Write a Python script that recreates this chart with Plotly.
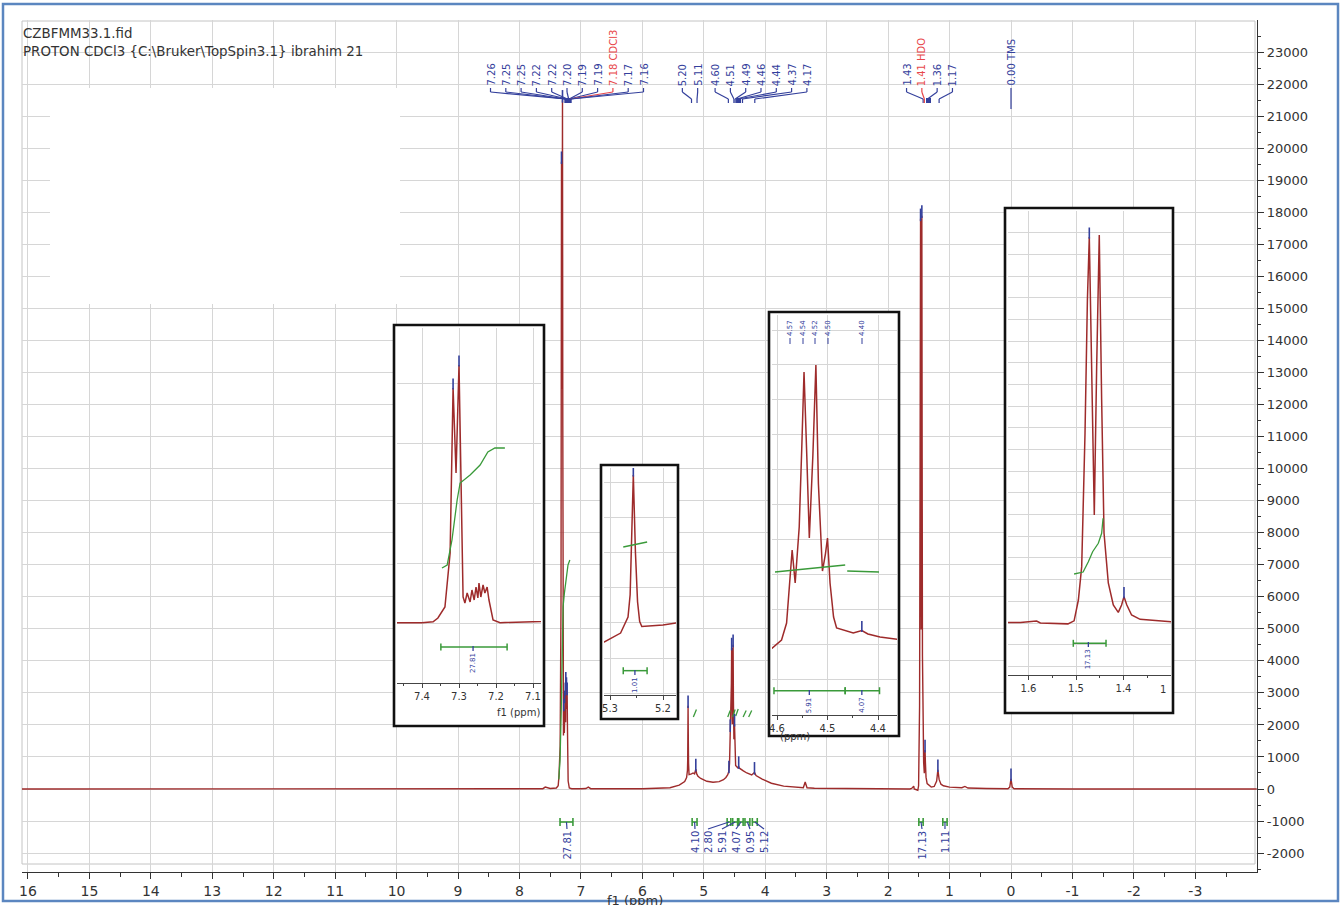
import numpy as np
import plotly.graph_objects as go

# ------------------------------------------------------------------
# page / plot-area geometry (pixels)
# ------------------------------------------------------------------
FIG_W, FIG_H = 1341, 905
PL, PR, PT, PB = 22, 1257, 20, 872

# main axis calibration: ppm -> px and intensity -> px
PPM0_PX, PX_PER_PPM = 1011.0, 61.44
BASE_PX, PX_PER_UNIT = 789.0, 0.03203

# ------------------------------------------------------------------
# 1H NMR spectrum: chemical shift (ppm) and intensity
# ------------------------------------------------------------------
shift_ppm = [
    16.10, 12.00, 9.00, 7.62, 7.58, 7.50, 7.40, 7.370, 7.357, 7.338, 7.324, 7.316, 7.308, 7.300,
    7.295, 7.289, 7.284, 7.278, 7.270, 7.265, 7.259, 7.254, 7.249, 7.246, 7.241, 7.235, 7.230,
    7.224, 7.219, 7.208, 7.189, 7.150, 7.00, 6.92, 6.88, 6.84, 6.00, 5.55, 5.40,
    5.311, 5.280, 5.266, 5.262, 5.259, 5.256, 5.252, 5.248, 5.244, 5.240, 5.200, 5.175, 5.150,
    5.130, 5.115, 5.095, 5.050, 4.950, 4.850, 4.750, 4.680,
    4.640, 4.610, 4.591, 4.581, 4.576, 4.570, 4.564, 4.556, 4.551, 4.5465, 4.541, 4.536, 4.529,
    4.523, 4.518, 4.510, 4.504, 4.500, 4.495, 4.488, 4.482, 4.449, 4.432, 4.420, 4.396, 4.356,
    4.300, 4.220, 4.175, 4.150, 4.050, 3.900, 3.700, 3.500, 3.380, 3.350, 3.320, 3.200, 2.800,
    2.000, 1.700,
    1.646, 1.617, 1.583, 1.575, 1.517, 1.504, 1.495, 1.488, 1.481, 1.476, 1.472, 1.467, 1.4615,
    1.4565, 1.451, 1.446, 1.441, 1.432, 1.4215, 1.411, 1.404, 1.399, 1.393, 1.383, 1.365, 1.298,
    1.250, 1.210, 1.190, 1.170, 1.140, 1.100, 1.000, 0.800, 0.750, 0.700, 0.400, 0.050, 0.020,
    0.000, -0.020, -0.050, -1.000, -4.000,
]
intensity = [
    0, 5, 0, 10, 60, 15, 30, 100, 417, 1333, 5833, 19583, 12500, 21500,
    11333, 2167, 1667, 2500, 1750, 2750, 1917, 3000, 2083, 3333, 2167, 3167, 2500,
    3000, 1917, 250, 30, 10, 10, 15, 60, 10, 10, 40, 120,
    231, 357, 584, 900, 1700, 2600, 1500, 800, 520, 450, 470, 500, 470,
    620, 470, 400, 330, 240, 210, 230, 290,
    360, 445, 564, 807, 1236, 1852, 1379, 2181, 3300, 4400, 3200, 2023, 3200,
    4500, 2800, 1550, 1800, 2023, 1379, 893, 736, 664, 700, 650, 607, 564,
    500, 440, 520, 420, 310, 180, 90, 50, 40, 220, 40, 25, 15,
    10, 10,
    0, 20, 90, 0, -40, 100, 1060, 2600, 8760, 14900, 17800, 11820, 4980,
    11820, 17900, 10290, 4150, 1845, 830, 490, 830, 1215, 830, 370, 170, 60,
    80, 250, 600, 300, 150, 100, 60, 40, 80, 30, 15, 10, 60,
    320, 60, 10, 0, 0,
]

# picked peaks (shown as short blue ticks on the peak tops)
picked_ppm = [7.316, 7.300, 7.278, 7.265, 7.254, 7.246, 7.235, 7.224, 5.256, 5.130, 4.591,
              4.570, 4.5465, 4.523, 4.500, 4.432, 4.175, 1.472, 1.451, 1.399, 1.190, 0.000]

# peak label groups shown along the top: (labels, group centre in px)
peak_label_groups = [
    (["7.26", "7.25", "7.25", "7.22", "7.22", "7.20", "7.19", "7.19", "7.18 CDCl3", "7.17", "7.16"], 567),
    (["5.20", "5.11"], 690),
    (["4.60", "4.51", "4.49", "4.46", "4.44", "4.37", "4.17"], 761),
    (["1.43", "1.41 HDO", "1.36", "1.17"], 929.5),
    (["0.00 TMS"], 1011),
]
solvent_labels = {"7.18 CDCl3", "1.41 HDO"}

# integrals on the main trace
integral_ranges = [(7.34, 7.13), (5.19, 5.11), (4.62, 4.56), (4.53, 4.45), (4.43, 4.36),
                   (4.33, 4.25), (4.21, 4.13), (1.50, 1.43), (1.11, 1.04)]
integral_values = ["27.81", "4.10", "2.80", "5.91", "4.07", "0.95", "5.12", "17.13", "1.11"]
integral_label_px = [567, 695, 708, 722, 736, 750, 764, 922, 945]

# integral curve of the aromatic region (main scale)
int_main_ppm = [7.36, 7.34, 7.32, 7.31, 7.30, 7.29, 7.27, 7.24, 7.21, 7.18]
int_main_val = [300, 900, 2500, 4200, 5300, 5700, 6100, 6600, 7000, 7150]
# short integral traces over the 5.2 - 4.1 ppm region
int_short = [((5.17, 5.12), (2250, 2480)), ((4.61, 4.57), (2250, 2450)),
             ((4.53, 4.49), (2250, 2480)), ((4.48, 4.44), (2280, 2500)),
             ((4.36, 4.31), (2250, 2450)), ((4.27, 4.22), (2250, 2450))]

# ------------------------------------------------------------------
# expansion panels
# ------------------------------------------------------------------
insets = [
    dict(box=(394, 325, 544, 726), area=(397, 328, 541, 683),
         xcal=(7.3, 459.0, 370.0), ycal=(623.0, 0.0120), ydtick=5000,
         xticks=[7.4, 7.3, 7.2, 7.1],
         int_ppm=[7.346, 7.332, 7.319, 7.305, 7.297, 7.270, 7.243, 7.222, 7.203, 7.176],
         int_val=[4583, 4833, 6917, 10250, 11667, 12333, 13167, 14250, 14583, 14583],
         bars=[(7.349, 7.170, -2000)], bar_labels=[("27.81", 7.262)], label_top_px=651,
         peaks=[7.316, 7.300]),
    dict(box=(601, 465, 678, 719), area=(604, 468, 676, 695),
         xcal=(5.3, 610.0, 530.0), ycal=(658.2, 0.07046), ydtick=500,
         xticks=[5.3, 5.2],
         int_ppm=[5.275, 5.230], int_val=[1578, 1649],
         bars=[(5.275, 5.230, -177)], bar_labels=[("1.01", 5.253)], label_top_px=675,
         peaks=[5.256]),
    dict(box=(769, 312, 899, 736), area=(772, 315, 897, 715),
         xcal=(4.5, 827.5, 505.0), ycal=(679.4, 0.06988), ydtick=500,
         xticks=[4.6, 4.5, 4.4],
         int_ppm=[4.604, 4.465, None, 4.461, 4.398], int_val=[1537, 1637, None, 1551, 1537],
         bars=[(4.606, 4.465, -162), (4.465, 4.397, -162)],
         bar_labels=[("5.91", 4.536), ("4.07", 4.432)], label_top_px=695,
         peaks=[4.432]),
    dict(box=(1005, 208, 1173, 713), area=(1008, 211, 1171, 675),
         xcal=(1.5, 1076.0, 475.0), ycal=(623.0, 0.02168), ydtick=1000,
         xticks=[1.6, 1.5, 1.4],
         int_ppm=[1.504, 1.485, 1.474, 1.465, 1.453, 1.446, 1.443],
         int_val=[2260, 2352, 2827, 3289, 3676, 4137, 4829],
         bars=[(1.5057, 1.4368, -937)], bar_labels=[("17.13", 1.474)], label_top_px=647,
         peaks=[1.472, 1.399]),
]
# peak labels printed at the top of the 4.5 ppm expansion
inset3_labels = ["4.57", "4.54", "4.52", "4.50", "4.40"]
inset3_label_px = [790, 803, 815, 828, 862]

# ------------------------------------------------------------------
SPEC = "#9e2b2b"
GREEN = "#3a9a3a"
NAVY = "#34409c"
RED = "#e8474a"
GRID = "#d6d6d6"
AXC = "#333333"
FONT = "DejaVu Sans"


def xp(x):
    return (x - PL) / (PR - PL)


def yp(y):
    return (PB - y) / (PB - PT)


def main_x(ppm):
    return PPM0_PX - ppm * PX_PER_PPM


def line_px(x0, y0, x1, y1, color, width=1.0):
    return dict(type="line", xref="paper", yref="paper", x0=xp(x0), y0=yp(y0), x1=xp(x1), y1=yp(y1),
                line=dict(color=color, width=width), layer="above")


fig = go.Figure()
shapes = []
annotations = []

# main spectrum
fig.add_trace(go.Scatter(x=shift_ppm, y=intensity, mode="lines", xaxis="x", yaxis="y",
                         line=dict(color=SPEC, width=1.4), hoverinfo="skip"))
fig.add_trace(go.Scatter(x=int_main_ppm, y=int_main_val, mode="lines", xaxis="x", yaxis="y",
                         line=dict(color=GREEN, width=1.3), hoverinfo="skip"))
for (p0, p1), (v0, v1) in int_short:
    fig.add_trace(go.Scatter(x=[p0, p1], y=[v0, v1], mode="lines", xaxis="x", yaxis="y",
                             line=dict(color=GREEN, width=1.3), hoverinfo="skip"))

asc_ppm = np.array(shift_ppm[::-1])
asc_int = np.array(intensity[::-1])
tops = np.interp(picked_ppm, asc_ppm, asc_int)
fig.add_trace(go.Scatter(x=picked_ppm, y=tops + 4 / PX_PER_UNIT, mode="markers", xaxis="x", yaxis="y",
                         marker=dict(symbol="line-ns", size=9, line=dict(color=NAVY, width=1.6)),
                         hoverinfo="skip"))

# peak labels along the top with their leaders
for labels, centre in peak_label_groups:
    n = len(labels)
    for i, lab in enumerate(labels):
        lx = centre + (i - (n - 1) / 2) * 15.3
        tx = main_x(float(lab.split()[0]))
        col = RED if lab in solvent_labels else NAVY
        annotations.append(dict(text=lab, x=xp(lx), y=yp(88), xref="paper", yref="paper",
                                textangle=-90, showarrow=False, xanchor="center", yanchor="bottom",
                                font=dict(family=FONT, size=10, color=col)))
        if n == 1:
            shapes.append(line_px(lx, 88, tx, 109, col, 1.2))
        else:
            shapes.append(line_px(lx, 88, lx, 92, col, 1.2))
            shapes.append(line_px(lx, 92, tx, 99, col, 1.2))
            shapes.append(line_px(tx, 99, tx, 103, col, 1.2))
    if n >= 4:
        mx = np.mean([main_x(float(l.split()[0])) for l in labels])
        shapes.append(dict(type="rect", xref="paper", yref="paper", x0=xp(mx - 2.5), x1=xp(mx + 2.5),
                           y0=yp(103), y1=yp(98), fillcolor=NAVY, line=dict(width=0), layer="above"))

# integral bars and values under the baseline
for (p0, p1), val, lx in zip(integral_ranges, integral_values, integral_label_px):
    x0, x1 = main_x(p0), main_x(p1)
    shapes.append(line_px(x0, 822, x1, 822, GREEN, 1.6))
    shapes.append(line_px(x0, 818, x0, 826, GREEN, 1.6))
    shapes.append(line_px(x1, 818, x1, 826, GREEN, 1.6))
    cx = (x0 + x1) / 2
    shapes.append(line_px(cx, 822, lx, 829, NAVY, 1.2))
    annotations.append(dict(text=val, x=xp(lx), y=yp(829), xref="paper", yref="paper",
                            textangle=-90, showarrow=False, xanchor="center", yanchor="top",
                            font=dict(family=FONT, size=10, color=NAVY)))

# ------------------------------------------------------------------
# axes
# ------------------------------------------------------------------
x_lo = (PPM0_PX - PL) / PX_PER_PPM
x_hi = (PPM0_PX - PR) / PX_PER_PPM
y_lo = (BASE_PX - PB) / PX_PER_UNIT
y_hi = (BASE_PX - PT) / PX_PER_UNIT
xt = list(range(16, -4, -1))
yt = list(range(-2000, 23001, 1000))

axes = {
    "xaxis": dict(domain=[0, 1], range=[x_lo, x_hi], anchor="y", tickmode="array", tickvals=xt,
                  ticktext=[str(v) for v in xt], ticks="outside", ticklen=6, tickwidth=1.2,
                  tickcolor=AXC, showline=True, linecolor=AXC, linewidth=1.2, showgrid=True,
                  gridcolor=GRID, gridwidth=1, zeroline=False, automargin=False,
                  tickfont=dict(family=FONT, size=14, color=AXC),
                  minor=dict(tickmode="linear", tick0=0.5, dtick=1, ticks="outside", ticklen=4,
                             tickcolor=AXC, showgrid=False)),
    "yaxis": dict(domain=[0, 1], range=[y_lo, y_hi], anchor="x", side="right", tickmode="array",
                  tickvals=yt, ticktext=[str(v) for v in yt], ticks="outside", ticklen=6,
                  tickwidth=1.2, tickcolor=AXC, showline=True, linecolor=AXC, linewidth=1.2,
                  showgrid=True, gridcolor=GRID, gridwidth=1, zeroline=False, automargin=False,
                  tickfont=dict(family=FONT, size=13, color=AXC),
                  minor=dict(tickmode="linear", tick0=500, dtick=1000, ticks="outside", ticklen=3,
                             tickcolor=AXC, showgrid=False)),
}

for i, ins in enumerate(insets):
    c, d = 2 + 2 * i, 3 + 2 * i
    bx0, by0, bx1, by1 = ins["box"]
    ax0, ay0, ax1, ay1 = ins["area"]
    rppm, rpx, sx = ins["xcal"]
    bpx, sy = ins["ycal"]
    # white panel behind the expansion
    axes[f"xaxis{c}"] = dict(domain=[xp(bx0 + 1), xp(bx1 - 1)], range=[0, 1], anchor=f"y{c}",
                             showgrid=False, zeroline=False, showticklabels=False, ticks="",
                             showline=False, automargin=False)
    axes[f"yaxis{c}"] = dict(domain=[yp(by1 - 1), yp(by0 + 1)], range=[0, 1], anchor=f"x{c}",
                             showgrid=False, zeroline=False, showticklabels=False, ticks="",
                             showline=False, automargin=False)
    fig.add_trace(go.Scatter(x=[None], y=[None], xaxis=f"x{c}", yaxis=f"y{c}", hoverinfo="skip"))
    # expansion plot
    xr = [rppm + (rpx - ax0) / sx, rppm - (ax1 - rpx) / sx]
    yr = [(bpx - ay1) / sy, (bpx - ay0) / sy]
    axes[f"xaxis{d}"] = dict(domain=[xp(ax0), xp(ax1)], range=xr, anchor=f"y{d}",
                             tickmode="array", tickvals=ins["xticks"],
                             ticktext=[f"{v:.1f}" for v in ins["xticks"]],
                             ticks="outside", ticklen=4, tickcolor="#444", showline=True,
                             linecolor="#444", linewidth=1, showgrid=True, gridcolor=GRID,
                             zeroline=False, automargin=False,
                             tickfont=dict(family=FONT, size=10, color="#333"),
                             minor=dict(tickmode="linear", tick0=0.05, dtick=0.1, ticks="outside",
                                        ticklen=2, tickcolor="#444", showgrid=False))
    axes[f"yaxis{d}"] = dict(domain=[yp(ay1), yp(ay0)], range=yr, anchor=f"x{d}",
                             tickmode="linear", tick0=0, dtick=ins["ydtick"], showgrid=True,
                             gridcolor=GRID, zeroline=False, showticklabels=False, ticks="",
                             showline=False, automargin=False)
    fig.add_trace(go.Scatter(x=shift_ppm, y=intensity, mode="lines", xaxis=f"x{d}", yaxis=f"y{d}",
                             line=dict(color=SPEC, width=1.5), hoverinfo="skip"))
    fig.add_trace(go.Scatter(x=ins["int_ppm"], y=ins["int_val"], mode="lines", xaxis=f"x{d}",
                             yaxis=f"y{d}", line=dict(color=GREEN, width=1.3), connectgaps=False,
                             hoverinfo="skip"))
    ptops = np.interp(ins["peaks"], asc_ppm, asc_int)
    fig.add_trace(go.Scatter(x=ins["peaks"], y=ptops + 4 / sy, mode="markers", xaxis=f"x{d}",
                             yaxis=f"y{d}", hoverinfo="skip",
                             marker=dict(symbol="line-ns", size=8, line=dict(color=NAVY, width=1.6))))
    tick_u = 3.5 / sy
    for p0, p1, v in ins["bars"]:
        for (a0, b0, a1, b1) in [(p0, v, p1, v), (p0, v - tick_u, p0, v + tick_u),
                                 (p1, v - tick_u, p1, v + tick_u)]:
            shapes.append(dict(type="line", xref=f"x{d}", yref=f"y{d}", x0=a0, y0=b0, x1=a1, y1=b1,
                               line=dict(color=GREEN, width=1.5), layer="above"))
    for lab, lp in ins["bar_labels"]:
        shapes.append(dict(type="line", xref=f"x{d}", yref="paper", x0=lp, x1=lp,
                           y0=yp(ins["label_top_px"] - 5), y1=yp(ins["label_top_px"]),
                           line=dict(color=NAVY, width=1.3), layer="above"))
        annotations.append(dict(text=lab, x=lp, y=yp(ins["label_top_px"]), xref=f"x{d}", yref="paper",
                                textangle=-90, showarrow=False, xanchor="center", yanchor="top",
                                font=dict(family=FONT, size=7, color=NAVY)))
    # frame of the expansion
    shapes.append(dict(type="rect", xref="paper", yref="paper", x0=xp(bx0), x1=xp(bx1),
                       y0=yp(by1), y1=yp(by0), line=dict(color="#111111", width=2.6),
                       fillcolor="rgba(0,0,0,0)", layer="above"))

# labels on top of the 4.5 ppm expansion
for lab, lx in zip(inset3_labels, inset3_label_px):
    annotations.append(dict(text=lab, x=xp(lx), y=yp(338), xref="paper", yref="paper",
                            textangle=-90, showarrow=False, xanchor="center", yanchor="bottom",
                            font=dict(family=FONT, size=7, color=NAVY)))
    shapes.append(line_px(lx, 338, lx, 344, NAVY, 1.0))

# axis captions of the expansions
annotations.append(dict(text="f1 (ppm)", x=xp(518), y=yp(712), xref="paper", yref="paper",
                        showarrow=False, xanchor="center", yanchor="middle",
                        font=dict(family=FONT, size=10, color="#333")))
annotations.append(dict(text="(ppm)", x=xp(795), y=yp(736), xref="paper", yref="paper",
                        showarrow=False, xanchor="center", yanchor="middle",
                        font=dict(family=FONT, size=10, color="#333")))
annotations.append(dict(text="1", x=xp(1163), y=yp(689), xref="paper", yref="paper",
                        showarrow=False, xanchor="center", yanchor="middle",
                        font=dict(family=FONT, size=10, color="#333")))

# header text and axis caption
annotations.append(dict(text="CZBFMM33.1.fid", x=xp(21), y=yp(33), xref="paper", yref="paper",
                        showarrow=False, xanchor="left", yanchor="middle",
                        font=dict(family=FONT, size=13.4, color="#333")))
annotations.append(dict(text="PROTON CDCl3 {C:\\Bruker\\TopSpin3.1} ibrahim 21", x=xp(21), y=yp(52),
                        xref="paper", yref="paper", showarrow=False, xanchor="left",
                        yanchor="middle", font=dict(family=FONT, size=13.4, color="#333")))
annotations.append(dict(text="f1 (ppm)", x=xp(635), y=yp(900), xref="paper", yref="paper",
                        showarrow=False, xanchor="center", yanchor="middle",
                        font=dict(family=FONT, size=13, color="#333")))

# blank panel over the upper-left grid
shapes.append(dict(type="rect", xref="paper", yref="paper", x0=xp(50), x1=xp(400), y0=yp(304),
                   y1=yp(88), fillcolor="white", line=dict(width=0), layer="above"))
# light plot frame
shapes.append(dict(type="rect", xref="paper", yref="paper", x0=xp(22), x1=xp(1255), y0=yp(864),
                   y1=yp(21), line=dict(color="#c4c4c4", width=1), fillcolor="rgba(0,0,0,0)",
                   layer="below"))
# outer border of the page
shapes.append(dict(type="rect", xref="paper", yref="paper", x0=xp(3), x1=xp(1338), y0=yp(901),
                   y1=yp(4), line=dict(color="#5b86c0", width=2.5), fillcolor="rgba(0,0,0,0)",
                   layer="above"))

fig.update_layout(
    width=FIG_W, height=FIG_H,
    margin=dict(l=PL, r=FIG_W - PR, t=PT, b=FIG_H - PB, pad=0, autoexpand=False),
    paper_bgcolor="white", plot_bgcolor="white",
    showlegend=False, shapes=shapes, annotations=annotations,
    font=dict(family=FONT, color=AXC),
    **axes,
)

fig.write_html("out.html")
